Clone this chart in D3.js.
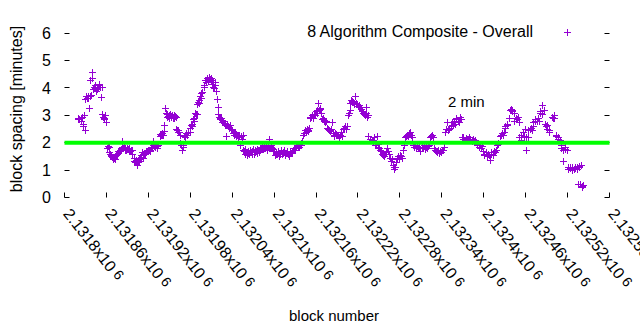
<!DOCTYPE html>
<html>
<head>
<meta charset="utf-8">
<script src="https://cdn.jsdelivr.net/npm/d3@7"></script>
<style>
body { margin: 0; background: #fff; }
text { font-family: "Liberation Sans", Arial, sans-serif; fill: #000; }
</style>
</head>
<body>
<script>
// block numbers are stored as offsets from this base block
var baseBlock = 2131800;

// x ticks (block numbers) and their mantissa labels (x10^6)
var xTickValues = [2131800, 2131860, 2131920, 2131980, 2132040, 2132100, 2132160,
                   2132220, 2132280, 2132340, 2132400, 2132460, 2132520, 2132580];
var xTickLabels = ["2.1318", "2.13186", "2.13192", "2.13198", "2.13204", "2.1321", "2.13216",
                   "2.13222", "2.13228", "2.13234", "2.1324", "2.13246", "2.13252", "2.13258"];
var yTickValues = [0, 1, 2, 3, 4, 5, 6];

var targetSpacing = 2; // the "2 min" line

// [block offset, block spacing in minutes]
var spacing = [
  [19,2.88],[20,2.92],[21,2.85],[23,2.9],[24,2.78],[25,2.95],[26,2.7],[27,2.62],[28,3.0],[29,2.45],
  [30,3.6],[31,3.7],[32,3.62],[33,3.65],[34,3.72],[35,3.28],[36,3.7],[37,4.3],[38,3.75],[39,4.35],[40,4.58],
  [41,3.95],[42,4.05],[43,4.1],[44,4.0],[45,3.9],[46,4.05],[47,3.98],[48,4.02],[49,4.1],[50,4.15],[51,4.05],[52,3.68],[53,4.02],
  [54,3.05],[55,2.95],[56,2.9],[57,2.85],[58,3.0],[59,2.75],
  [61,1.8],[62,1.88],[63,1.85],[64,1.65],[65,1.6],[66,1.55],[67,1.5],[68,1.48],[69,1.45],[70,1.42],[71,1.45],[72,1.4],
  [73,1.55],[74,1.6],[75,1.58],[76,1.68],[77,1.62],[78,1.7],[79,1.75],[80,1.72],[81,1.78],[82,2.05],[83,1.85],
  [84,1.8],[85,1.85],[86,1.75],[87,1.8],[88,1.72],[89,1.78],[90,1.82],[91,1.78],[92,1.7],[93,1.82],[94,1.7],[95,1.75],[96,1.72],[97,1.6],
  [99,1.45],[100,1.35],[101,1.3],[102,1.38],[103,1.28],[104,1.2],[105,1.3],[106,1.32],[107,1.4],[108,1.45],[109,1.48],
  [110,1.55],[111,1.65],[112,1.6],[113,1.45],[114,1.62],[115,1.58],[116,1.7],[117,1.65],[118,1.68],[119,1.72],[120,1.68],[121,1.75],[122,1.7],[123,1.72],
  [124,1.85],[125,1.8],[126,2.08],[127,1.9],[128,1.88],[129,1.95],[130,1.85],[131,1.92],[132,1.88],[133,1.8],[134,1.9],
  [136,2.25],[137,2.32],[138,2.3],[139,2.28],[140,2.35],[141,2.3],[142,2.65],[143,2.42],
  [144,3.28],[145,3.1],[146,2.95],[147,3.05],[148,2.98],[149,2.92],[150,3.0],[151,3.05],[152,2.98],[153,2.95],[154,3.0],[155,2.92],[156,2.9],[157,3.02],[158,2.96],[159,2.95],
  [160,2.5],[161,2.45],[162,2.48],[163,2.4],[164,2.38],[165,2.3],[166,2.0],[167,1.9],[168,1.72],[169,1.85],[170,1.92],
  [171,2.25],[172,2.22],[173,2.3],[174,2.35],[175,2.28],[176,2.28],[177,2.4],[179,2.38],[180,2.55],[181,2.65],[182,2.6],[183,2.7],
  [184,2.85],[185,2.78],[186,2.9],[187,3.1],[188,3.05],[189,3.05],[190,3.4],[191,3.5],[192,3.45],[193,3.55],[194,3.72],[195,3.65],[196,3.8],[197,3.85],
  [199,4.1],[200,4.05],[201,4.3],[202,4.2],[203,4.2],[204,4.35],[205,4.28],[206,4.25],[207,4.4],[208,4.32],[209,4.38],[210,4.3],
  [211,4.15],[212,4.2],[213,4.05],[214,4.0],[215,4.1],[216,4.22],[217,3.88],[218,3.58],
  [219,3.3],[220,3.05],[221,2.95],[222,2.9],[223,2.85],[224,2.9],[225,2.82],[226,2.75],[227,2.8],[228,2.72],[229,2.7],[230,2.65],
  [231,2.23],[232,2.68],[233,2.68],[234,2.6],[235,2.58],[236,2.55],[237,2.65],[238,2.5],[239,2.5],[240,2.45],
  [241,2.35],[242,2.4],[243,2.3],[244,2.38],[245,2.32],[246,2.25],[247,2.3],[248,2.28],[249,2.22],[250,2.3],[251,1.93],[252,2.25],[253,2.25],[254,2.15],[255,2.3],
  [256,1.75],[257,1.7],[258,1.78],[259,1.6],[260,1.65],[261,1.55],[262,1.62],[263,1.68],[264,1.6],[265,1.65],[266,1.72],[267,1.65],
  [268,1.6],[269,1.7],[270,1.78],[271,1.6],[272,1.65],[273,1.72],[274,1.68],[275,1.62],[276,1.78],[277,1.75],[278,1.7],[279,1.65],[280,1.8],
  [281,1.82],[282,1.78],[283,1.85],[284,1.78],[285,1.82],[286,1.9],[287,1.8],[288,1.85],[289,1.88],[290,1.75],[291,1.85],[292,1.8],
  [293,2.15],[294,1.8],[295,1.85],[296,1.9],[297,1.82],[299,1.78],
  [300,1.7],[301,1.55],[302,1.6],[303,1.62],[304,1.6],[305,1.65],[306,1.68],[307,1.52],[308,1.58],[309,1.6],[310,1.72],[311,1.58],
  [312,1.62],[313,1.65],[314,1.75],[315,1.6],[316,1.55],[317,1.62],[318,1.68],[319,1.7],[320,1.6],[321,1.5],[322,1.55],[323,1.68],
  [324,1.62],[325,1.65],[326,1.7],[327,1.75],[328,1.72],[329,1.8],[330,1.72],[331,1.85],
  [333,1.9],[334,1.88],[335,1.95],[336,1.85],[337,1.92],[338,1.98],[339,1.9],[340,2.05],
  [341,2.3],[342,2.28],[343,2.35],[344,2.45],[345,2.38],[346,2.4],[347,2.5],[348,2.45],[349,2.42],[350,2.55],
  [351,2.9],[352,2.95],[353,2.95],[354,3.0],[355,2.92],[356,2.92],[357,3.05],[358,3.0],[359,3.0],[360,3.15],[361,3.1],[362,3.2],
  [363,3.45],[364,3.2],[365,3.28],[366,3.25],[367,3.1],
  [369,2.85],[370,2.9],[371,2.8],[372,2.82],[373,2.75],[374,2.8],[376,2.55],[377,2.5],[378,2.48],[379,2.45],[380,2.42],[381,2.5],[383,2.74],
  [384,2.35],[385,2.3],[386,2.25],[387,2.35],[388,2.28],[389,2.32],[390,2.3],[391,2.28],[393,2.22],[394,2.3],[396,2.38],[397,2.25],
  [399,2.5],[400,2.55],[401,2.6],[403,2.5],[404,2.62],
  [406,3.03],[407,3.1],[408,3.2],[409,3.45],[410,3.55],[411,3.5],[412,3.52],[413,3.48],[414,3.4],[415,3.45],[416,3.72],[417,3.45],
  [418,3.4],[419,3.42],[420,3.35],[421,3.3],[422,3.38],[423,3.3],[424,3.25],[426,3.15],[427,3.1],[429,3.05],[430,3.0],[431,3.08],
  [432,3.3],[433,2.95],[434,3.02],
  [435,2.23],[437,2.15],[440,2.1],[441,2.05],[443,2.2],[444,1.9],[446,2.0],[447,2.23],[448,1.85],[449,1.95],[450,1.8],[451,1.75],
  [453,1.7],[454,1.6],[456,1.55],[457,1.5],[459,1.6],[460,1.65],[461,1.82],[463,1.7],[464,1.6],[466,1.45],[467,1.35],[469,1.4],
  [470,1.2],[471,1.05],[472,1.1],[473,1.1],[474,1.3],[476,1.45],[477,1.5],[479,1.4],[480,1.55],[481,1.5],[483,1.45],[484,1.75],
  [486,1.9],[487,2.2],[489,2.25],[490,2.3],[491,2.25],[493,2.35],[494,2.4],[496,2.3],[497,2.22],[499,1.9],[500,1.85],[501,1.92],
  [503,1.82],[504,1.88],[506,1.8],[507,1.85],[509,1.68],
  [511,1.85],[513,1.8],[514,1.9],[516,1.78],[517,1.85],[519,1.8],[520,1.88],[521,1.92],[523,2.2],[524,2.25],[526,2.3],[527,2.2],
  [529,1.8],[530,1.75],[531,1.7],[533,1.65],[534,1.75],[536,1.62],[537,1.7],[539,1.65],[540,1.72],[541,1.75],[543,1.85],
  [544,2.4],[546,2.5],[547,2.77],[549,2.45],[550,2.55],[551,2.5],[553,2.6],[554,2.75],[556,2.65],[557,2.8],[559,2.7],[560,2.85],
  [561,2.9],[563,2.8],[564,2.75],[566,2.95],[567,2.85],
  [569,2.2],[570,2.15],[571,2.2],[573,2.1],[574,2.18],[576,2.15],[577,2.12],[579,2.2],[580,2.1],[581,2.15],[583,2.05],[584,2.12],
  [586,2.08],[587,2.1],[589,2.02],
  [590,1.95],[591,1.9],[593,1.85],[594,1.92],[596,1.8],[597,1.88],[599,1.7],[600,1.6],[601,1.55],[603,1.65],[604,1.5],[606,1.6],
  [607,1.55],[609,1.38],[610,1.6],[611,1.65],[613,1.55],[614,1.7],[616,1.65],[617,1.75],
  [619,1.9],[620,1.95],[621,2.0],[623,2.25],[624,2.3],[626,2.35],[627,2.3],[629,2.4],[630,2.55],[631,2.6],[633,2.7],[634,2.65],
  [636,2.9],[637,3.2],[639,3.25],[640,3.2],[641,3.15],[643,3.1],
  [644,2.8],[646,2.9],[647,2.85],[649,2.95],[650,2.75],[651,2.2],[653,2.3],[654,2.1],[656,2.4],[657,2.25],[659,2.5],[660,2.2],[661,1.75],[663,2.2],
  [664,2.45],[666,2.5],[667,2.55],[669,2.45],[670,2.6],[671,2.75],[673,2.8],[674,2.85],[676,2.78],[677,2.9],[679,2.8],[680,3.1],
  [681,3.15],[683,3.36],[684,3.05],[686,3.2],[687,2.7],[689,2.6],[690,2.5],[691,2.65],[693,2.45],[694,2.4],
  [697,2.95],[699,2.9],[700,3.0],[701,2.92],[703,2.3],[704,2.25],[706,2.2],[707,2.15],[709,2.1],
  [710,1.9],[711,1.8],[713,1.35],[714,1.75],[716,1.85],[717,1.78],[719,1.72],
  [720,1.1],[721,1.05],[723,1.12],[724,1.08],[726,1.0],[727,1.1],[729,1.05],[730,1.08],[731,1.12],[733,1.05],[734,1.1],
  [736,1.15],[737,1.12],[739,1.17],
  [735,0.5],[738,0.48],[740,0.42],[741,0.38],[742,0.45]
];

var width = 640, height = 330;
var plotColor = "#9400d3";

var svg = d3.select("body").append("svg")
    .attr("width", width)
    .attr("height", height);

var x = d3.scaleLinear()
    .domain([2131800, 2132580])
    .range([64.5, 609.5]);
var y = d3.scaleLinear()
    .domain([0, 6.5])
    .range([197.5, 19.5]);

var left = x.range()[0], right = x.range()[1];
var bottom = y.range()[0], top = y.range()[1];
var tick = 5;

// ticks, mirrored on all four sides
var ticks = svg.append("g").attr("stroke", "#000").attr("stroke-width", 1);
xTickValues.forEach(function(v) {
    var px = Math.round(x(v) - 0.5) + 0.5;
    ticks.append("line").attr("x1", px).attr("x2", px).attr("y1", bottom).attr("y2", bottom - tick);
    ticks.append("line").attr("x1", px).attr("x2", px).attr("y1", top).attr("y2", top + tick);
});
yTickValues.forEach(function(v) {
    var py = Math.round(y(v) - 0.5) + 0.5;
    ticks.append("line").attr("x1", left).attr("x2", left + tick).attr("y1", py).attr("y2", py);
    ticks.append("line").attr("x1", right).attr("x2", right - tick).attr("y1", py).attr("y2", py);
});

// y tick labels
svg.append("g").selectAll("text")
    .data(yTickValues)
    .enter().append("text")
    .attr("x", 51)
    .attr("y", function(d) { return y(d); })
    .attr("dy", "0.36em")
    .attr("text-anchor", "end")
    .style("font-size", "16px")
    .text(function(d) { return d; });

// x tick labels, rotated, with x10^6 superscript
var xl = svg.append("g").selectAll("text")
    .data(xTickValues)
    .enter().append("text")
    .attr("transform", function(d) { return "translate(" + (x(d) - 2) + ",214) rotate(52)"; })
    .style("font-size", "16px");
xl.append("tspan").text(function(d, i) { return xTickLabels[i] + "x10"; });
xl.append("tspan").attr("dx", 4).attr("dy", -2).style("font-size", "14px").text("6");

// data points
var plus = "M-3.5,0H3.5M0,-3.5V3.5";
svg.append("g")
    .attr("stroke", plotColor)
    .attr("stroke-width", 1)
    .attr("fill", "none")
    .selectAll("path")
    .data(spacing)
    .enter().append("path")
    .attr("transform", function(d) {
        var px = Math.round(x(baseBlock + d[0])) + 0.5;
        var py = Math.round(y(d[1])) + 0.5;
        return "translate(" + px + "," + py + ")";
    })
    .attr("d", plus);

// 2 minute target line
svg.append("line")
    .attr("x1", left).attr("x2", right)
    .attr("y1", y(targetSpacing)).attr("y2", y(targetSpacing))
    .attr("stroke", "#00ff00")
    .attr("stroke-width", 4);

// frame
svg.append("rect")
    .attr("x", left).attr("y", top)
    .attr("width", right - left).attr("height", bottom - top)
    .attr("fill", "none")
    .attr("stroke", "#000");

// legend
svg.append("text")
    .attr("x", 533).attr("y", 37)
    .attr("text-anchor", "end")
    .style("font-size", "16px")
    .text("8 Algorithm Composite - Overall");
svg.append("path")
    .attr("transform", "translate(567.5,32.5)")
    .attr("d", plus)
    .attr("stroke", plotColor);

svg.append("text")
    .attr("x", 448).attr("y", 107)
    .style("font-size", "15px")
    .text("2 min");

// axis titles
svg.append("text")
    .attr("x", 334).attr("y", 321)
    .attr("text-anchor", "middle")
    .style("font-size", "15px")
    .text("block number");
svg.append("text")
    .attr("transform", "translate(22,109) rotate(-90)")
    .attr("text-anchor", "middle")
    .style("font-size", "16px")
    .text("block spacing [minutes]");
</script>
</body>
</html>
